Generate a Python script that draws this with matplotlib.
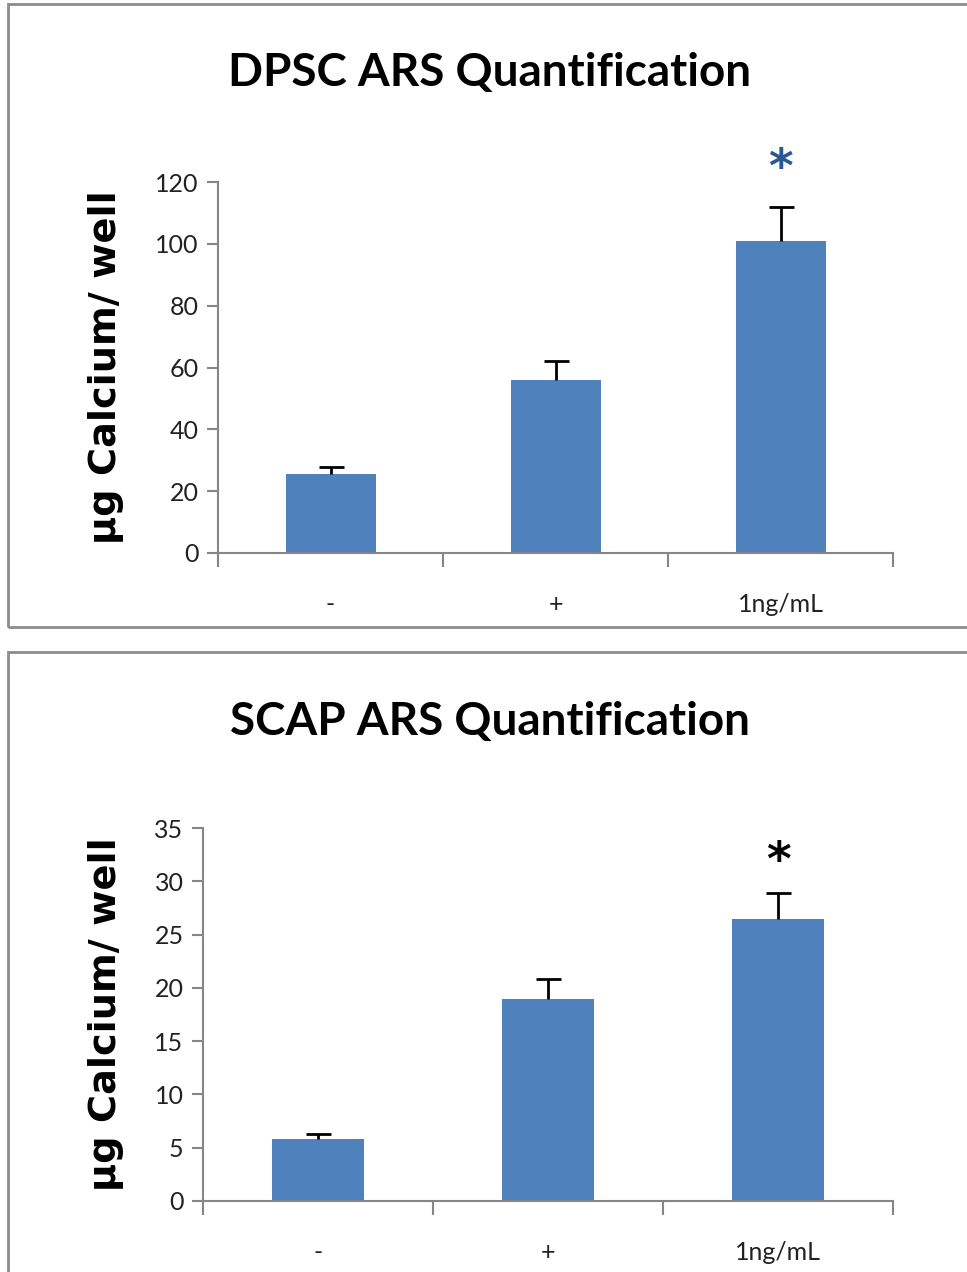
import matplotlib
matplotlib.use("Agg")
import matplotlib.pyplot as plt
from matplotlib.patches import Rectangle

# data
categories = ["-", "+", "1ng/mL"]

dpsc_values = [25.5, 56.0, 101.0]
dpsc_errors = [2.2, 6.0, 11.0]

scap_values = [5.8, 19.0, 26.5]
scap_errors = [0.5, 1.8, 2.4]

dpsc_ticks = [0, 20, 40, 60, 80, 100, 120]
scap_ticks = [0, 5, 10, 15, 20, 25, 30, 35]

W, H = 967, 1272
bar_color = "#4F81BD"
axis_color = "#868686"
tick_font = "Lato"

fig = plt.figure(figsize=(W / 100, H / 100), dpi=100)


def px_axes(left, top, right, bottom):
    # pixel box -> figure fraction
    return fig.add_axes([left / W, 1 - bottom / H, (right - left) / W, (bottom - top) / H])


def draw_panel(ax, values, errors, yticks, ymax, star_color, star_y):
    x = list(range(len(values)))
    ax.bar(x, values, width=0.4, color=bar_color, zorder=2)
    _, caps, _ = ax.errorbar(x, values, yerr=[[0] * len(errors), errors], fmt="none",
                             ecolor="black", elinewidth=2, capsize=9, capthick=2, zorder=3)
    caps[0].set_visible(False)  # only the upper cap
    ax.set_xlim(-0.5, len(values) - 0.5)
    ax.set_ylim(0, ymax)
    ax.set_yticks(yticks)
    ax.set_yticklabels([str(t) for t in yticks], fontsize=18, family=tick_font, color="#222222")
    ax.set_xticks([i - 0.5 for i in range(len(values) + 1)])
    ax.set_xticklabels([])
    ax.set_xticks(x, minor=True)
    ax.set_xticklabels(categories, minor=True, fontsize=18, family=tick_font, color="#222222")
    ax.tick_params(axis="x", which="major", length=10, width=1.5, color=axis_color, direction="out")
    ax.tick_params(axis="x", which="minor", length=0, pad=29)
    ax.tick_params(axis="y", length=8, width=1.5, color=axis_color, direction="out", pad=6)
    for s in ["top", "right"]:
        ax.spines[s].set_visible(False)
    for s in ["left", "bottom"]:
        ax.spines[s].set_color(axis_color)
        ax.spines[s].set_linewidth(1.5)
    ax.text(2, star_y, "*", ha="center", va="center", fontsize=34, fontweight="bold",
            color=star_color, family="DejaVu Sans")
    ax.set_ylabel("µg Calcium/ well", fontsize=27.5, fontweight="heavy",
                  family="DejaVu Sans", labelpad=22)


# top panel: DPSC
ax1 = px_axes(218, 182, 893, 553)
draw_panel(ax1, dpsc_values, dpsc_errors, dpsc_ticks, 120, "#2A5893", 124)
fig.text(490 / W, 1 - 73 / H, "DPSC ARS Quantification", ha="center", va="center",
         fontsize=33, fontweight="bold", family="Lato")

# bottom panel: SCAP
ax2 = px_axes(203, 828, 893, 1201)
draw_panel(ax2, scap_values, scap_errors, scap_ticks, 35, "black", 31.8)
fig.text(490 / W, 1 - 722 / H, "SCAP ARS Quantification", ha="center", va="center",
         fontsize=33, fontweight="bold", family="Lato")

# panel borders
for top, bottom in [(4, 627), (652, 1290)]:
    fig.patches.append(Rectangle((8 / W, 1 - bottom / H), (975 - 8) / W, (bottom - top) / H,
                                 transform=fig.transFigure, fill=False,
                                 edgecolor="#8C8C8C", linewidth=2))

fig.savefig("out.png", dpi=100)
